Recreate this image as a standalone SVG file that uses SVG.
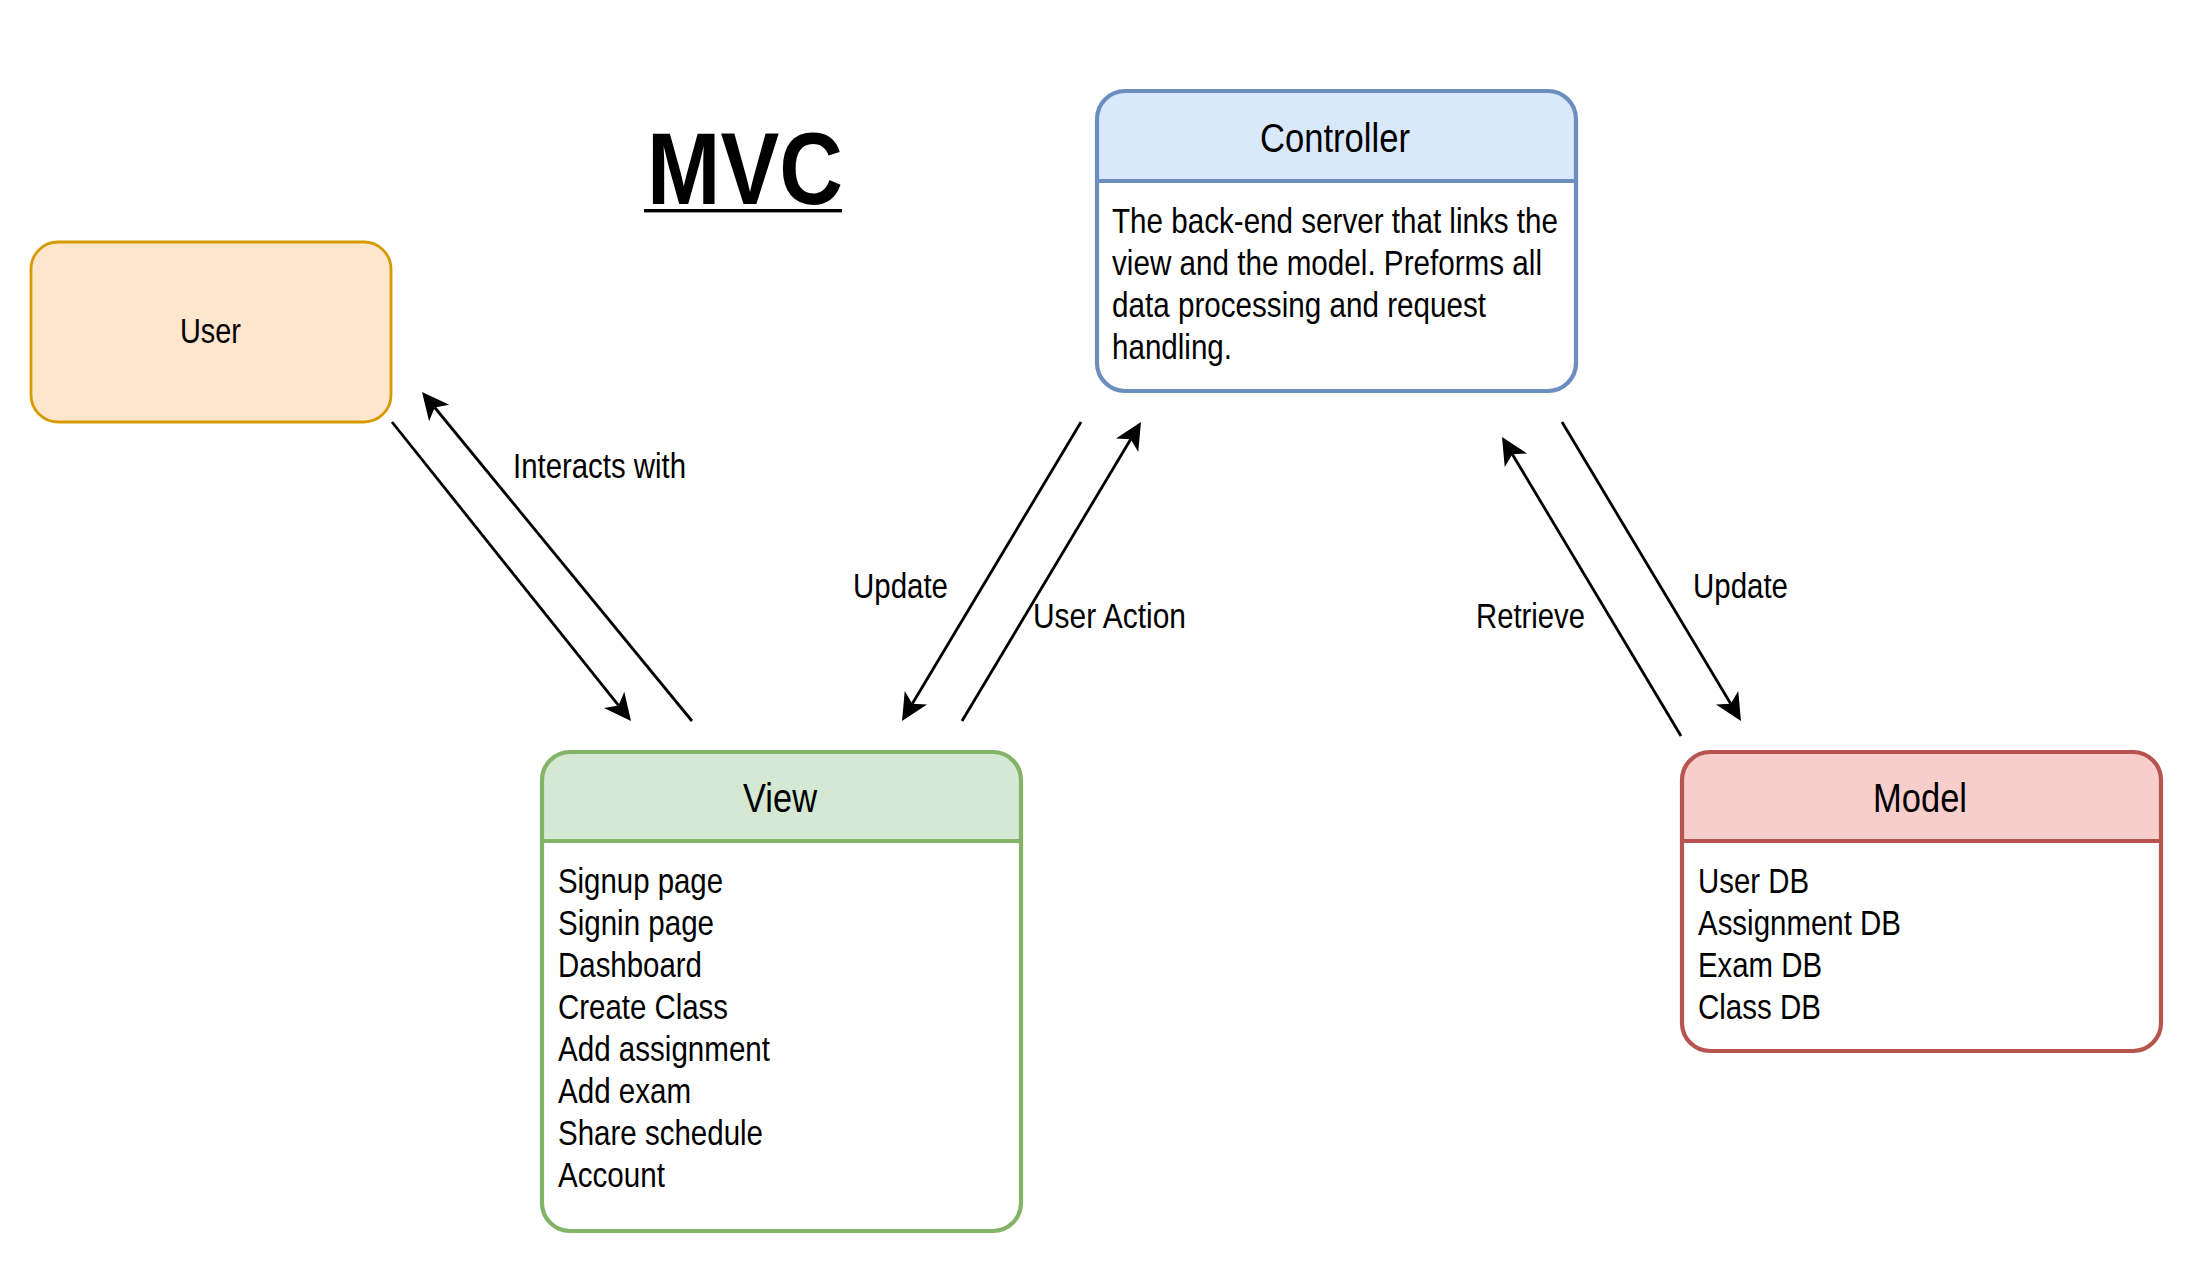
<svg xmlns="http://www.w3.org/2000/svg" width="2196" height="1263" viewBox="0 0 2196 1263">
<defs>
<style>
text{font-family:"Liberation Sans",Arial,Helvetica,sans-serif;fill:#000}
.t{font-size:40px}
.b{font-size:35px}
.edge{stroke:#000;stroke-width:2.8;fill:none;marker-end:url(#arr)}
</style>
<marker id="arr" markerUnits="userSpaceOnUse" viewBox="-30 -16 32 32" markerWidth="32" markerHeight="32" refX="-20" refY="0" orient="auto">
<path d="M0,0 L-27,-13 L-20,0 L-27,13 Z" fill="#000"/>
</marker>
</defs>
<rect width="2196" height="1263" fill="#fff"/>
<g id="title">
<text x="647" y="204" style="font-size:102px;font-weight:bold" textLength="196" lengthAdjust="spacingAndGlyphs">MVC</text>
<rect x="644" y="209" width="198" height="3.4" fill="#000"/>
</g>
<g id="user">
<rect x="31" y="242" width="360" height="180" rx="27" fill="#ffe6cc" stroke="#d79b00" stroke-width="2.8"/>
<text x="180" y="343" class="b" textLength="61" lengthAdjust="spacingAndGlyphs">User</text>
</g>
<g id="controller">
<rect x="1097" y="91" width="479" height="300" rx="28" fill="#fff"/>
<path d="M1097,181 V119 A28,28 0 0 1 1125,91 H1548 A28,28 0 0 1 1576,119 V181 Z" fill="#dae8fc"/>
<line x1="1097" y1="181" x2="1576" y2="181" stroke="#6c8ebf" stroke-width="4.2"/>
<rect x="1097" y="91" width="479" height="300" rx="28" fill="none" stroke="#6c8ebf" stroke-width="4.2"/>
<text x="1260" y="152" class="t" textLength="150" lengthAdjust="spacingAndGlyphs">Controller</text>
<text x="1112" y="233" class="b" textLength="446" lengthAdjust="spacingAndGlyphs">The back-end server that links the</text>
<text x="1112" y="275" class="b" textLength="430" lengthAdjust="spacingAndGlyphs">view and the model. Preforms all</text>
<text x="1112" y="317" class="b" textLength="374" lengthAdjust="spacingAndGlyphs">data processing and request</text>
<text x="1112" y="359" class="b" textLength="120" lengthAdjust="spacingAndGlyphs">handling.</text>
</g>
<g id="view">
<rect x="542" y="752" width="479" height="479" rx="28" fill="#fff"/>
<path d="M542,841 V780 A28,28 0 0 1 570,752 H993 A28,28 0 0 1 1021,780 V841 Z" fill="#d5e8d4"/>
<line x1="542" y1="841" x2="1021" y2="841" stroke="#82b366" stroke-width="4.2"/>
<rect x="542" y="752" width="479" height="479" rx="28" fill="none" stroke="#82b366" stroke-width="4.2"/>
<text x="743" y="812" class="t" textLength="74" lengthAdjust="spacingAndGlyphs">View</text>
<text x="558" y="893" class="b" textLength="165" lengthAdjust="spacingAndGlyphs">Signup page</text>
<text x="558" y="935" class="b" textLength="156" lengthAdjust="spacingAndGlyphs">Signin page</text>
<text x="558" y="977" class="b" textLength="144" lengthAdjust="spacingAndGlyphs">Dashboard</text>
<text x="558" y="1019" class="b" textLength="170" lengthAdjust="spacingAndGlyphs">Create Class</text>
<text x="558" y="1061" class="b" textLength="212" lengthAdjust="spacingAndGlyphs">Add assignment</text>
<text x="558" y="1103" class="b" textLength="133" lengthAdjust="spacingAndGlyphs">Add exam</text>
<text x="558" y="1145" class="b" textLength="205" lengthAdjust="spacingAndGlyphs">Share schedule</text>
<text x="558" y="1187" class="b" textLength="107" lengthAdjust="spacingAndGlyphs">Account</text>
</g>
<g id="model">
<rect x="1682" y="752" width="479" height="299" rx="28" fill="#fff"/>
<path d="M1682,841 V780 A28,28 0 0 1 1710,752 H2133 A28,28 0 0 1 2161,780 V841 Z" fill="#f8cecc"/>
<line x1="1682" y1="841" x2="2161" y2="841" stroke="#b85450" stroke-width="4.2"/>
<rect x="1682" y="752" width="479" height="299" rx="28" fill="none" stroke="#b85450" stroke-width="4.2"/>
<text x="1873" y="812" class="t" textLength="94" lengthAdjust="spacingAndGlyphs">Model</text>
<text x="1698" y="893" class="b" textLength="111" lengthAdjust="spacingAndGlyphs">User DB</text>
<text x="1698" y="935" class="b" textLength="203" lengthAdjust="spacingAndGlyphs">Assignment DB</text>
<text x="1698" y="977" class="b" textLength="124" lengthAdjust="spacingAndGlyphs">Exam DB</text>
<text x="1698" y="1019" class="b" textLength="123" lengthAdjust="spacingAndGlyphs">Class DB</text>
</g>
<g id="connectors">
<line class="edge" x1="392" y1="422" x2="618.5" y2="705.4"/>
<line class="edge" x1="692" y1="721" x2="434.7" y2="407.5"/>
<line class="edge" x1="1081" y1="422" x2="912.3" y2="703.8"/>
<line class="edge" x1="962" y1="721" x2="1130.7" y2="439.2"/>
<line class="edge" x1="1681" y1="736" x2="1512.3" y2="454.2"/>
<line class="edge" x1="1562" y1="422" x2="1730.7" y2="703.8"/>
<text x="513" y="478" class="b" textLength="173" lengthAdjust="spacingAndGlyphs">Interacts with</text>
<text x="853" y="598" class="b" textLength="95" lengthAdjust="spacingAndGlyphs">Update</text>
<text x="1033" y="628" class="b" textLength="153" lengthAdjust="spacingAndGlyphs">User Action</text>
<text x="1476" y="628" class="b" textLength="109" lengthAdjust="spacingAndGlyphs">Retrieve</text>
<text x="1693" y="598" class="b" textLength="95" lengthAdjust="spacingAndGlyphs">Update</text>
</g>
</svg>
